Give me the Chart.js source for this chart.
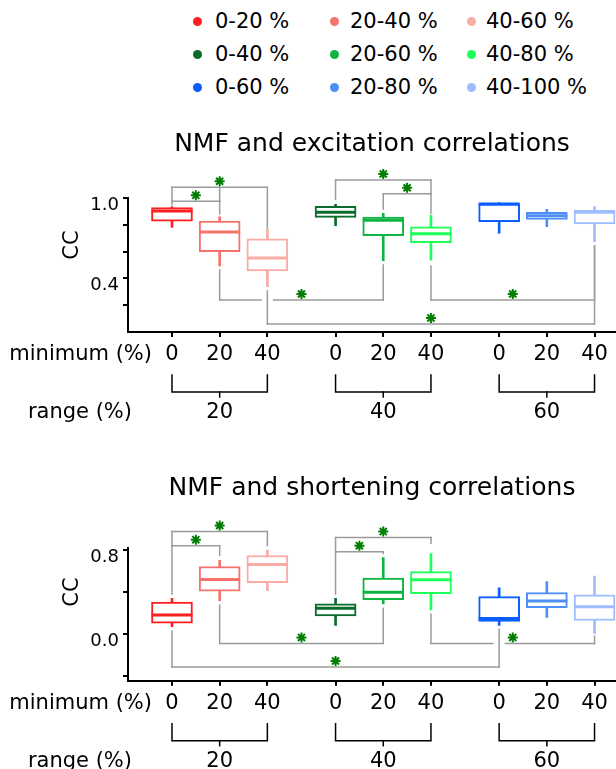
<!DOCTYPE html>
<html>
<head>
<meta charset="utf-8">
<script src="https://cdn.jsdelivr.net/npm/chart.js@4.4.0/dist/chart.umd.min.js"></script>
<style>
	body { margin: 0; background: #fff; width: 616px; height: 769px; overflow: hidden; position: relative; font-family: 'DejaVu Sans', sans-serif; }
	canvas { position: absolute; left: 0; }
	.dot { position: absolute; width: 9px; height: 9px; border-radius: 50%; }
	.lab { position: absolute; font-size: 21px; line-height: 24px; color: #000; white-space: nowrap; }
</style>
</head>
<body>
<div id="legend"></div>
<canvas id="excChart" width="616" height="430" style="top:0px"></canvas>
<canvas id="shoChart" width="616" height="425" style="top:344px"></canvas>
<script>

const rangePct = [20, 40, 60];
const minimumPct = [0, 20, 40];
const seriesLabels = ['0-20 %', '20-40 %', '40-60 %', '0-40 %', '20-60 %', '40-80 %', '0-60 %', '20-80 %', '40-100 %'];
const seriesColors = ['#ff1f1f', '#f6736c', '#f9aba4', '#0b6b2b', '#0db540', '#1cff58', '#0a5eff', '#4f8ff5', '#9dbdff'];

// NMF and excitation correlations (whisker low, q1, median, q3, whisker high)
const excLow  = [0.781, 0.493, 0.338, 0.793, 0.532, 0.537, 0.737, 0.786, 0.674];
const excQ1   = [0.828, 0.599, 0.455, 0.856, 0.719, 0.667, 0.823, 0.841, 0.806];
const excMed  = [0.903, 0.746, 0.552, 0.893, 0.834, 0.734, 0.955, 0.868, 0.893];
const excQ3   = [0.928, 0.828, 0.696, 0.938, 0.858, 0.784, 0.957, 0.893, 0.908];
const excHigh = [0.935, 0.860, 0.766, 0.953, 0.886, 0.873, 0.965, 0.916, 0.935];
const excTicks = [0.2, 0.4, 0.6, 0.8, 1.0];
const excTickLabels = ['', '0.4', '', '', '1.0'];

// NMF and shortening correlations
const shoLow  = [0.074, 0.320, 0.416, 0.086, 0.288, 0.233, 0.086, 0.160, 0.000];
const shoQ1   = [0.106, 0.410, 0.490, 0.176, 0.330, 0.387, 0.122, 0.253, 0.132];
const shoMed  = [0.185, 0.522, 0.663, 0.247, 0.400, 0.519, 0.151, 0.317, 0.262];
const shoQ3   = [0.307, 0.644, 0.749, 0.291, 0.535, 0.596, 0.358, 0.397, 0.375];
const shoHigh = [0.343, 0.704, 0.800, 0.343, 0.730, 0.768, 0.442, 0.502, 0.554];
const shoTicks = [-0.4, -0.2, 0.0, 0.2, 0.4, 0.6, 0.8];
const shoTickLabels = ['', '', '0.0', '', '', '', '0.8'];

// significance brackets: [box a, box b, level, line end at a, line end at b]
const excLinks = [
	[0, 1, 0.975, 0.950, 0.881],
	[0, 2, 1.080, 0.975, 0.776],
	[1, 4, 0.239, 0.463, 0.500],
	[2, 8, 0.060, 0.306, 0.642],
	[3, 5, 1.134, 0.990, 0.888],
	[4, 5, 1.032, 0.918, 1.032],
	[5, 8, 0.239, 0.493, 0.642]
];
const excDrops = [[1, 1.080, 0.975]];
const excGaps = [[2, 0.239]];

const shoLinks = [
	[0, 1, 0.842, 0.384, 0.752],
	[0, 2, 0.977, 0.842, 0.842],
	[1, 4, -0.086, 0.279, 0.247],
	[0, 6, -0.310, 0.032, 0.048],
	[3, 5, 0.919, 0.384, 0.865],
	[3, 4, 0.785, 0.785, 0.768],
	[5, 8, -0.086, 0.192, -0.016]
];
const shoDrops = [];
const shoGaps = [[6, -0.086]];

const FONT = "'DejaVu Sans', sans-serif";
const groupStep = 3.43;
const xPos = seriesLabels.map((s, k) => Math.floor(k / 3) * groupStep + k % 3);

// legend (3 x 3)
const legendDotX = [197, 334, 471];
const legendTextX = [215, 350, 486];
const legendRowY = [21, 54, 87];
const legendBox = document.getElementById('legend');
seriesLabels.forEach((label, k) => {
	const row = Math.floor(k / 3), col = k % 3;
	const dot = document.createElement('div');
	dot.className = 'dot';
	dot.style.left = (legendDotX[col] - 4.5) + 'px';
	dot.style.top = (legendRowY[row] - 4.5) + 'px';
	dot.style.background = seriesColors[k];
	legendBox.appendChild(dot);
	const txt = document.createElement('div');
	txt.className = 'lab';
	txt.style.left = legendTextX[col] + 'px';
	txt.style.top = (legendRowY[row] - 12) + 'px';
	txt.textContent = label;
	legendBox.appendChild(txt);
});

// brackets, asterisks and the minimum / range rows
const annotate = {
	id: 'annotate',
	afterDraw(chart, args, o) {
		const { ctx, chartArea: { bottom, left }, scales: { x, y } } = chart;
		const px = k => x.getPixelForValue(xPos[k]);
		const py = v => y.getPixelForValue(v);
		const seg = (x1, y1, x2, y2) => { ctx.beginPath(); ctx.moveTo(x1, y1); ctx.lineTo(x2, y2); ctx.stroke(); };

		ctx.save();
		ctx.strokeStyle = '#9b9b9b';
		ctx.lineWidth = 1.5;
		ctx.lineCap = 'square';
		o.links.forEach(([a, b, lvl]) => seg(px(a), py(lvl), px(b), py(lvl)));

		ctx.fillStyle = '#ffffff';
		o.gaps.forEach(([k, lvl]) => ctx.fillRect(px(k) - 5.5, py(lvl) - 2, 11, 4));

		o.links.forEach(([a, b, lvl, ea, eb]) => {
			seg(px(a), py(lvl), px(a), py(ea));
			seg(px(b), py(lvl), px(b), py(eb));
		});
		o.drops.forEach(([k, y1, y2]) => seg(px(k), py(y1), px(k), py(y2)));

		ctx.strokeStyle = '#007d00';
		ctx.fillStyle = '#007d00';
		ctx.lineWidth = 2;
		ctx.lineCap = 'butt';
		o.links.forEach(([a, b, lvl]) => {
			Chart.helpers.drawPoint(ctx, { pointStyle: 'star', radius: 5, borderWidth: 2, rotation: 0 }, (px(a) + px(b)) / 2, py(lvl) - 6);
		});

		// y title
		ctx.fillStyle = '#000';
		ctx.font = '21px ' + FONT;
		ctx.textAlign = 'center';
		ctx.textBaseline = 'middle';
		ctx.save();
		ctx.translate(73, o.ccY);
		ctx.rotate(-Math.PI / 2);
		ctx.fillText('CC', 0, 0);
		ctx.restore();

		// minimum row label
		ctx.textAlign = 'right';
		ctx.fillText('minimum (%)', left + 24, bottom + 23);

		// range brackets
		ctx.strokeStyle = '#000';
		ctx.lineWidth = 1.5;
		ctx.lineCap = 'square';
		rangePct.forEach((r, g) => {
			const xs = px(3 * g), xm = px(3 * g + 1), xe = px(3 * g + 2);
			ctx.beginPath();
			ctx.moveTo(xs, bottom + 43);
			ctx.lineTo(xs, bottom + 60);
			ctx.lineTo(xe, bottom + 60);
			ctx.lineTo(xe, bottom + 43);
			ctx.stroke();
			seg(xm, bottom + 60, xm, bottom + 65);
			ctx.textAlign = 'center';
			ctx.fillText(String(r), xm, bottom + 81);
		});
		ctx.textAlign = 'right';
		ctx.fillText('range (%)', left + 4, bottom + 81);
		ctx.restore();
	}
};

const makeChart = (id, cfg) => {
	const ctx = document.getElementById(id).getContext('2d');

	const whiskers = xPos.map((v, k) => ({ x: v, y: [cfg.low[k], cfg.high[k]] }));
	const boxes = xPos.map((v, k) => ({ x: v, y: [cfg.q1[k], cfg.q3[k]] }));
	const medians = xPos.map((v, k) => ({ x: v, y: cfg.med[k] }));

	return new Chart(ctx, {
		type: 'bar',
		data: {
			datasets: [
				{ type: 'line', data: medians, showLine: false, pointStyle: 'line', pointRadius: 20.5, pointHoverRadius: 20.5,
					pointBorderWidth: 3, pointBorderColor: seriesColors, order: 1 },
				{ type: 'bar', data: boxes, backgroundColor: '#ffffff', borderColor: seriesColors, borderWidth: 2,
					borderSkipped: false, barThickness: 41, grouped: false, order: 2 },
				{ type: 'bar', data: whiskers, backgroundColor: seriesColors, borderWidth: 0,
					barThickness: 2, grouped: false, order: 3 }
			]
		},
		options: {
			responsive: false,
			animation: false,
			devicePixelRatio: 1,
			events: [],
			layout: { autoPadding: false, padding: { top: 120, left: 0, right: 0, bottom: 0 } },
			plugins: {
				legend: { display: false },
				tooltip: { enabled: false },
				title: {
					display: true, text: cfg.title, fullSize: false, color: '#000',
					font: { family: FONT, size: 25, weight: 'normal' },
					padding: { top: 9.6, bottom: cfg.titleGap }
				},
				annotate: { links: cfg.links, drops: cfg.drops, gaps: cfg.gaps, ccY: cfg.ccY }
			},
			scales: {
				x: {
					type: 'linear', min: -0.922, max: 9.31, offset: false,
					afterBuildTicks: (s) => { s.ticks = xPos.map(v => ({ value: v })); },
					afterFit: (s) => { s.height = cfg.xHeight; s.paddingLeft = 0; s.paddingRight = 0; },
					ticks: {
						autoSkip: false, maxRotation: 0, padding: 5, color: '#000',
						font: { family: FONT, size: 21 },
						callback: (v, i) => String(minimumPct[i % 3])
					},
					grid: { drawOnChartArea: false, tickLength: 5, color: '#000', lineWidth: 2, offset: false },
					border: { color: '#000', width: 2 }
				},
				y: {
					min: cfg.yMin, max: cfg.yMax,
					afterBuildTicks: (s) => { s.ticks = cfg.ticks.map(v => ({ value: v })); },
					afterFit: (s) => { s.width = 128; },
					ticks: {
						padding: 4, labelOffset: 7, color: '#000',
						font: { family: FONT, size: 18 },
						callback: (v, i) => cfg.tickLabels[i]
					},
					grid: { drawOnChartArea: false, tickLength: 5, color: '#000', lineWidth: 2 },
					border: { color: '#000', width: 2 }
				}
			}
		},
		plugins: [annotate]
	});
};

makeChart('excChart', {
	title: 'NMF and excitation correlations', titleGap: 38.4, xHeight: 98, ccY: 245,
	low: excLow, q1: excQ1, med: excMed, q3: excQ3, high: excHigh,
	yMin: 0, yMax: 1.0, ticks: excTicks, tickLabels: excTickLabels,
	links: excLinks, drops: excDrops, gaps: excGaps
});

makeChart('shoChart', {
	title: 'NMF and shortening correlations', titleGap: 44.4, xHeight: 88.3, ccY: 248,
	low: shoLow, q1: shoQ1, med: shoMed, q3: shoQ3, high: shoHigh,
	yMin: -0.44, yMax: 0.82, ticks: shoTicks, tickLabels: shoTickLabels,
	links: shoLinks, drops: shoDrops, gaps: shoGaps
});

</script>
</body>
</html>
